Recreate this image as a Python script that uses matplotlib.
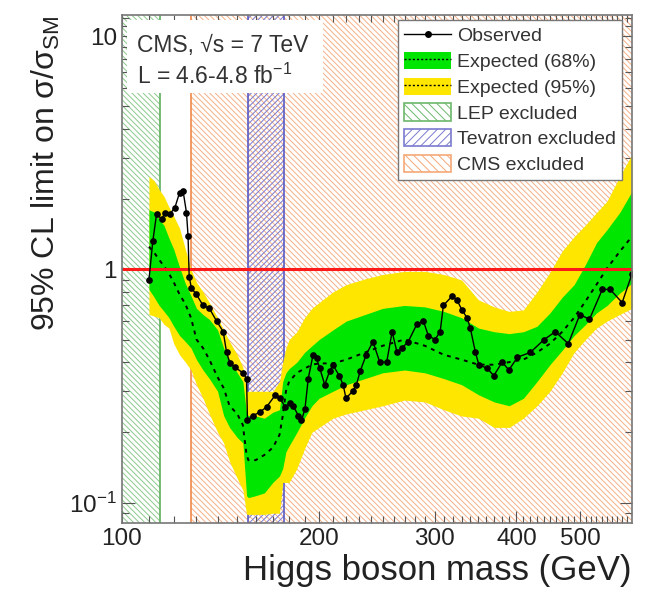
import matplotlib
matplotlib.use('Agg')
import matplotlib.pyplot as plt
from matplotlib.lines import Line2D
from matplotlib.patches import Patch, Rectangle

plt.rcParams['font.family'] = ['Liberation Sans', 'DejaVu Sans']
plt.rcParams['mathtext.fontset'] = 'custom'
plt.rcParams['mathtext.rm'] = 'Liberation Sans'
plt.rcParams['mathtext.it'] = 'Liberation Sans:italic'
plt.rcParams['hatch.linewidth'] = 0.7

# observed limit
obs_mass = [110, 111.5, 113, 115, 116.5, 118.5, 120.5, 122.5, 124, 125.5, 126.2, 126.7,
            127.7, 130, 133, 136, 139.5, 142.8, 144.5, 146.2, 148.8, 153, 155, 155.5,
            158.6, 162.4, 166.3, 171.3, 174.4, 177.4, 180.6, 182.6, 185.9, 188, 190.3,
            192.5, 195.8, 198.2, 200.5, 204, 207.5, 210, 214.7, 217.6, 219.8, 225, 228,
            231, 236, 241.6, 247.5, 253.6, 258.5, 263, 267.6, 273.6, 281.8, 288.5, 293.5,
            300.5, 306, 309.5, 318.8, 324.5, 330.3, 336.3, 340.2, 346.4, 350.6, 361,
            369.5, 380.5, 389.6, 401.5, 420, 441, 458.6, 480, 500, 517, 541, 556, 580, 600]
obs_limit = [0.90, 1.32, 1.73, 1.64, 1.75, 1.73, 1.84, 2.13, 2.17, 1.75, 1.39, 0.93,
             0.83, 0.78, 0.70, 0.68, 0.60, 0.54, 0.44, 0.395, 0.38, 0.36, 0.34, 0.225,
             0.236, 0.244, 0.257, 0.288, 0.28, 0.257, 0.266, 0.26, 0.236, 0.225, 0.252,
             0.34, 0.43, 0.415, 0.376, 0.32, 0.365, 0.388, 0.35, 0.32, 0.28, 0.30, 0.32,
             0.365, 0.43, 0.49, 0.40, 0.40, 0.54, 0.44, 0.46, 0.49, 0.58, 0.60, 0.52,
             0.50, 0.54, 0.70, 0.765, 0.74, 0.67, 0.62, 0.56, 0.44, 0.39, 0.376,
             0.35, 0.40, 0.37, 0.42, 0.44, 0.50, 0.54, 0.48, 0.64, 0.61, 0.82, 0.82, 0.72, 0.95]

# expected limit and bands
exp_mass = [110, 112, 114, 116, 118, 120, 122.5, 125, 127.5, 130, 133, 136, 140, 143,
            146, 150, 153, 155, 156, 160, 165, 170, 174, 176, 178, 180, 185, 190, 195,
            200, 210, 220, 235, 250, 270, 290, 310, 330, 350, 370, 390, 410, 430, 450,
            470, 490, 510, 530, 550, 575, 600]
exp_median = [1.25, 1.18, 1.10, 1.03, 0.96, 0.88, 0.78, 0.71, 0.62, 0.50, 0.46, 0.41, 0.345, 0.31,
              0.26, 0.24, 0.215, 0.16, 0.152, 0.152, 0.16, 0.172, 0.195, 0.235, 0.30, 0.33, 0.36, 0.375, 0.39,
              0.395, 0.395, 0.41, 0.44, 0.47, 0.50, 0.47, 0.43, 0.41, 0.39, 0.39, 0.40, 0.41, 0.44, 0.48,
              0.54, 0.62, 0.73, 0.86, 1.01, 1.19, 1.38]
exp_68_hi = [1.80, 1.76, 1.64, 1.54, 1.36, 1.22, 1.02, 0.87, 0.77, 0.68, 0.64, 0.61, 0.55, 0.46,
             0.41, 0.36, 0.33, 0.24, 0.236, 0.235, 0.23, 0.244, 0.25, 0.33, 0.36, 0.375, 0.40, 0.44, 0.47,
             0.50, 0.55, 0.60, 0.64, 0.68, 0.70, 0.69, 0.66, 0.62, 0.56, 0.54, 0.53, 0.54, 0.57, 0.65,
             0.76, 0.86, 1.05, 1.30, 1.48, 1.75, 2.15]
exp_68_lo = [0.82, 0.76, 0.70, 0.66, 0.62, 0.57, 0.52, 0.49, 0.46, 0.41, 0.37, 0.34, 0.30, 0.236,
             0.21, 0.19, 0.18, 0.107, 0.105, 0.107, 0.11, 0.122, 0.13, 0.14, 0.165, 0.175, 0.20, 0.23, 0.26,
             0.28, 0.30, 0.32, 0.34, 0.36, 0.37, 0.36, 0.34, 0.32, 0.29, 0.27, 0.26, 0.28, 0.33, 0.39,
             0.45, 0.52, 0.58, 0.65, 0.70, 0.79, 0.87]
exp_95_hi = [2.5, 2.4, 2.2, 2.05, 1.85, 1.69, 1.5, 1.22, 1.0, 0.88, 0.80, 0.72, 0.62, 0.55,
             0.49, 0.43, 0.38, 0.30, 0.30, 0.30, 0.30, 0.30, 0.33, 0.40, 0.46, 0.50, 0.54, 0.62, 0.68,
             0.72, 0.80, 0.86, 0.91, 0.95, 0.98, 0.98, 0.95, 0.90, 0.74, 0.69, 0.66, 0.67, 0.80, 0.97,
             1.20, 1.38, 1.55, 1.75, 1.96, 2.5, 3.1]
exp_95_lo = [0.64, 0.63, 0.62, 0.58, 0.56, 0.48, 0.43, 0.40, 0.37, 0.32, 0.28, 0.24, 0.20, 0.18,
             0.15, 0.127, 0.113, 0.089, 0.089, 0.089, 0.089, 0.09, 0.09, 0.122, 0.122, 0.122, 0.14, 0.17, 0.20,
             0.21, 0.23, 0.24, 0.25, 0.26, 0.275, 0.27, 0.25, 0.235, 0.23, 0.21, 0.21, 0.23, 0.26, 0.30,
             0.36, 0.44, 0.50, 0.56, 0.60, 0.64, 0.68]

# excluded mass ranges (GeV)
lep_range = (100, 114.4)
tev_range = (156, 177)
cms_range = (127.5, 600)

green = '#00e600'
yellow = '#ffe600'
lep_col = '#8cc98c'
tev_col = '#7a7ad0'
cms_col = '#f6b088'
txt = '#222222'

fig = plt.figure(figsize=(6.48, 5.93), dpi=100)
ax = fig.add_axes([0.188, 0.1186, 0.787, 0.856])
ax.set_xscale('log')
ax.set_yscale('log')
ax.set_xlim(100, 600)
ax.set_ylim(0.082, 12.3)

# excluded regions (hatched)
hatch_back = '\\\\\\\\\\\\'
ax.axvspan(*cms_range, facecolor='none', edgecolor=cms_col, hatch=hatch_back, lw=0, zorder=1)
ax.axvspan(*lep_range, facecolor='none', edgecolor=lep_col, hatch=hatch_back, lw=0, zorder=1)
ax.axvspan(*tev_range, facecolor='none', edgecolor=tev_col, hatch='//////', lw=0, zorder=1)
ax.axvline(lep_range[1], color='#5fae5f', lw=1.2, zorder=1.5)
ax.axvline(cms_range[0], color='#f08a4a', lw=1.2, zorder=1.5)
ax.axvline(tev_range[0], color='#5a5ac4', lw=1.2, zorder=1.5)
ax.axvline(tev_range[1], color='#5a5ac4', lw=1.2, zorder=1.5)

# bands
ax.fill_between(exp_mass, exp_95_lo, exp_95_hi, color=yellow, lw=0, zorder=2)
ax.fill_between(exp_mass, exp_68_lo, exp_68_hi, color=green, lw=0, zorder=3)
ax.plot(exp_mass, exp_median, color='black', ls=(0, (2, 2.5)), lw=1.4, zorder=4)
ax.axhline(1, color='#ff1a1a', lw=2.2, zorder=5)
ax.plot(obs_mass, obs_limit, color='black', lw=1.0, marker='o', ms=3.8, zorder=6)

# header box
ax.add_patch(Rectangle((0.01, 0.846), 0.385, 0.144, transform=ax.transAxes,
                       facecolor='white', edgecolor='none', zorder=7))
ax.text(0.029, 0.941, 'CMS, \u221as = 7 TeV', transform=ax.transAxes, fontsize=16.5,
        color='#333333', va='center', zorder=8)
ax.text(0.029, 0.880, 'L = 4.6-4.8 fb$^{-1}$', transform=ax.transAxes, fontsize=16.5,
        color='#333333', va='center', zorder=8)

# legend
handles = [
    Line2D([], [], color='black', lw=1.0, marker='o', ms=4),
    (Patch(facecolor=green, edgecolor='none'), Line2D([], [], color='black', ls=(0, (1.5, 1.5)), lw=1.0)),
    (Patch(facecolor=yellow, edgecolor='none'), Line2D([], [], color='black', ls=(0, (1.5, 1.5)), lw=1.0)),
    Patch(facecolor='white', edgecolor='#6cb86c', hatch='\\\\\\\\', lw=1.2),
    Patch(facecolor='white', edgecolor='#7a7ad0', hatch='////', lw=1.2),
    Patch(facecolor='white', edgecolor='#f5a878', hatch='\\\\\\\\', lw=1.2),
]
labels = ['Observed', 'Expected (68%)', 'Expected (95%)', 'LEP excluded',
          'Tevatron excluded', 'CMS excluded']
leg = ax.legend(handles, labels, loc='upper right', bbox_to_anchor=(0.98, 0.99),
                borderaxespad=0, fontsize=14, frameon=True, fancybox=False,
                framealpha=1, edgecolor='#777777', handlelength=2.4, handleheight=1.0,
                handletextpad=0.3, labelspacing=0.33, borderpad=0.3, labelcolor='#333333')
leg.set_zorder(9)
leg.get_frame().set_linewidth(1.0)

# axes styling
x_ticks = [100, 200, 300, 400, 500]
x_labels = ['100', '200', '300', '400', '500']
y_ticks = [0.1, 1, 10]
y_labels = ['10$^{-1}$', '1', '10']
ax.set_xticks(x_ticks, x_labels)
ax.set_xticks([m for m in range(110, 600, 10) if m % 100], minor=True)
ax.set_xticklabels([], minor=True)
ax.set_yticks(y_ticks, y_labels)
ax.set_yticks([0.09] + [k / 10 for k in range(2, 10)] + list(range(2, 10)) + [11, 12], minor=True)
ax.set_yticklabels([], minor=True)
ax.tick_params(which='both', direction='in', top=True, right=True, colors='#555555',
               labelcolor=txt, labelsize=17.5, width=0.8)
ax.tick_params(which='major', length=9)
ax.tick_params(which='minor', length=5)
for s in ax.spines.values():
    s.set_color('#777777')
    s.set_linewidth(1.2)
    s.set_zorder(10)

ax.set_xlabel('Higgs boson mass (GeV)', fontsize=25, color=txt, loc='right')
ax.xaxis.set_label_coords(1.0, -0.062)
ax.set_ylabel('95% CL limit on \u03c3/\u03c3$_{\\mathrm{SM}}$', fontsize=23, color=txt, loc='top')
ax.yaxis.set_label_coords(-0.118, 1.0)

fig.savefig('out.png', dpi=100)
